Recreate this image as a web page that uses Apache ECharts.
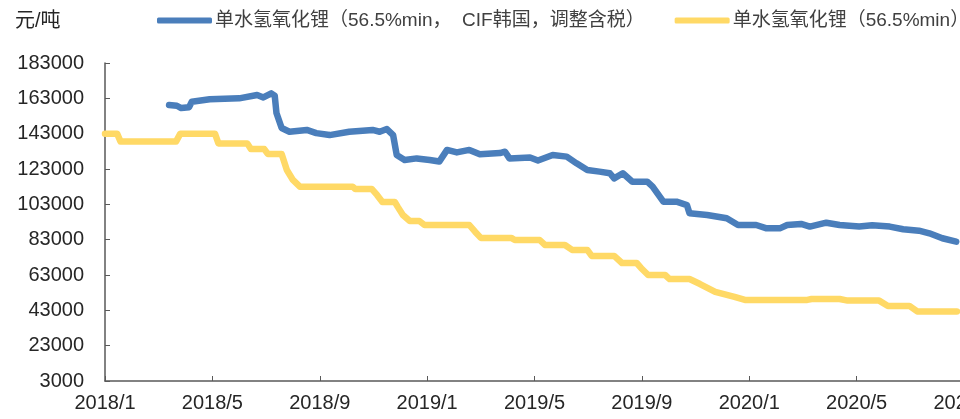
<!DOCTYPE html>
<html>
<head>
<meta charset="utf-8">
<script src="https://cdn.jsdelivr.net/npm/echarts@6/dist/echarts.min.js"></script>
<style>
  html, body { margin: 0; padding: 0; background: #fff; }
  #chart { width: 960px; height: 419px; }
</style>
</head>
<body>
<div id="chart"></div>
<script>
// x轴刻度标签（每4个月一个）
var xLabels = ["2018/1", "2018/5", "2018/9", "2019/1", "2019/5", "2019/9", "2020/1", "2020/5", "2020/9"];

// 单水氢氧化锂（56.5%min， CIF韩国，调整含税）
var blueDates = [
  "2018-03-13", "2018-03-22", "2018-03-27", "2018-04-05", "2018-04-08", "2018-04-28",
  "2018-06-01", "2018-06-21", "2018-06-28", "2018-07-07", "2018-07-11", "2018-07-13",
  "2018-07-19", "2018-07-28", "2018-08-17", "2018-08-28", "2018-09-12", "2018-10-04",
  "2018-10-31", "2018-11-08", "2018-11-16", "2018-11-23", "2018-11-27", "2018-12-06",
  "2018-12-20", "2019-01-04", "2019-01-15", "2019-01-24", "2019-02-04", "2019-02-17",
  "2019-02-28", "2019-03-23", "2019-03-29", "2019-04-03", "2019-04-26", "2019-05-05",
  "2019-05-22", "2019-06-07", "2019-06-18", "2019-06-30", "2019-07-14", "2019-07-26",
  "2019-07-31", "2019-08-10", "2019-08-21", "2019-09-07", "2019-09-13", "2019-09-25",
  "2019-10-10", "2019-10-22", "2019-10-25", "2019-11-14", "2019-12-06", "2019-12-19",
  "2020-01-09", "2020-01-21", "2020-02-05", "2020-02-13", "2020-02-28", "2020-03-09",
  "2020-03-28", "2020-04-12", "2020-05-04", "2020-05-19", "2020-06-08", "2020-06-23",
  "2020-07-11", "2020-07-23", "2020-08-07", "2020-08-23"
];
var blueValues = [
  159200, 158800, 157500, 158000, 161100, 162500,
  163000, 164900, 163500, 165800, 164500, 154700,
  146200, 144100, 145100, 143300, 142200, 144100,
  145100, 144100, 145600, 142200, 130900, 128100,
  129000, 128100, 127200, 133800, 132400, 133800,
  131300, 132000, 132800, 129000, 129500, 127800,
  130900, 130000, 126200, 122400, 121500, 120600,
  117700, 120600, 115800, 115800, 113000, 104500,
  104500, 102600, 97900, 97000, 95100, 91300,
  91300, 89400, 89400, 91300, 91900, 90400,
  92600, 91300, 90400, 91100, 90400, 88900,
  88100, 86600, 83800, 81900
];

// 单水氢氧化锂（56.5%min）
var yellowDates = [
  "2018-01-01", "2018-01-15", "2018-01-19", "2018-03-21", "2018-03-26", "2018-05-04",
  "2018-05-08", "2018-06-10", "2018-06-14", "2018-06-29", "2018-07-03", "2018-07-19",
  "2018-07-25", "2018-08-01", "2018-08-09", "2018-10-08", "2018-10-11", "2018-10-30",
  "2018-11-05", "2018-11-11", "2018-11-25", "2018-11-28", "2018-12-04", "2018-12-12",
  "2018-12-23", "2018-12-29", "2019-02-17", "2019-02-23", "2019-03-01", "2019-04-05",
  "2019-04-09", "2019-05-07", "2019-05-13", "2019-06-05", "2019-06-13", "2019-06-30",
  "2019-07-05", "2019-07-31", "2019-08-09", "2019-08-26", "2019-08-31", "2019-09-08",
  "2019-09-27", "2019-10-02", "2019-10-25", "2019-11-06", "2019-11-23", "2019-12-15",
  "2019-12-27", "2020-03-06", "2020-03-11", "2020-04-12", "2020-04-21", "2020-05-27",
  "2020-06-06", "2020-06-30", "2020-07-09", "2020-08-24"
];
var yellowValues = [
  143000, 143000, 138500, 138500, 143000, 143000,
  137500, 137500, 134300, 134300, 131500, 131500,
  122400, 116800, 113000, 113000, 111700, 111700,
  108300, 104300, 104300, 101700, 97000, 93600,
  93600, 91300, 91300, 87500, 84000, 84000,
  82800, 82800, 80000, 80000, 77200, 77200,
  73800, 73800, 69800, 69800, 67000, 63000,
  63000, 60700, 60700, 57900, 53400, 50600,
  48900, 48900, 49400, 49400, 48500, 48500,
  45500, 45500, 42400, 42400
];

// 日期 -> 以2018/1为0的月份序号
function toMonth(d) {
  var p = d.split("-").map(Number);
  var dim = new Date(p[0], p[1], 0).getDate();
  return (p[0] - 2018) * 12 + (p[1] - 1) + (p[2] - 1) / dim;
}

function pairs(dates, values) {
  return dates.map(function (d, i) {
    return [toMonth(d), values[i]];
  });
}

var axisColor = "#595959";
var textColor = "#262626";
var mixFont = "Arial, 'Noto Sans CJK SC', sans-serif";

var myChart = echarts.init(document.getElementById("chart"));
myChart.setOption({
  animation: false,
  title: {
    text: "元/吨",
    left: 10,
    top: 6,
    textStyle: {
      fontFamily: mixFont,
      fontSize: 20,
      fontWeight: "normal",
      color: textColor
    }
  },
  legend: {
    left: 157,
    top: 11,
    width: 900,
    padding: 0,
    itemWidth: 55,
    itemHeight: 6,
    itemGap: 30,
    icon: "roundRect",
    textStyle: {
      fontFamily: mixFont,
      fontSize: 19,
      color: "#404040",
      padding: [0, 0, 0, -2]
    },
    data: ["单水氢氧化锂（56.5%min，  CIF韩国，调整含税）", "单水氢氧化锂（56.5%min）"]
  },
  grid: {
    left: 105,
    right: -4,
    top: 63,
    bottom: 38,
    containLabel: false,
    outerBoundsMode: "none"
  },
  xAxis: {
    type: "value",
    min: 0,
    max: 32,
    interval: 4,
    splitLine: { show: false },
    axisLine: { lineStyle: { color: axisColor, width: 1.5 } },
    axisTick: { inside: true, length: 5, lineStyle: { color: axisColor } },
    axisLabel: {
      showMaxLabel: true,
      hideOverlap: false,
      margin: 12,
      fontFamily: "Arial",
      fontSize: 20,
      color: textColor,
      formatter: function (v) {
        return xLabels[Math.round(v / 4)];
      }
    }
  },
  yAxis: {
    type: "value",
    min: 3000,
    max: 183000,
    interval: 20000,
    splitLine: { show: false },
    axisLine: { show: true, lineStyle: { color: axisColor, width: 1.5 } },
    axisTick: { show: true, inside: true, length: 5, lineStyle: { color: axisColor } },
    axisLabel: {
      margin: 21,
      fontFamily: "Arial",
      fontSize: 20,
      color: textColor,
      formatter: function (v) {
        return String(v);
      }
    }
  },
  series: [
    {
      name: "单水氢氧化锂（56.5%min，  CIF韩国，调整含税）",
      type: "line",
      showSymbol: false,
      symbol: "none",
      color: "#4a7ebb",
      lineStyle: { width: 6.5, cap: "round", join: "round" },
      data: pairs(blueDates, blueValues)
    },
    {
      name: "单水氢氧化锂（56.5%min）",
      type: "line",
      showSymbol: false,
      symbol: "none",
      color: "#ffd966",
      lineStyle: { width: 6.5, cap: "round", join: "round" },
      data: pairs(yellowDates, yellowValues)
    }
  ]
});
</script>
</body>
</html>
